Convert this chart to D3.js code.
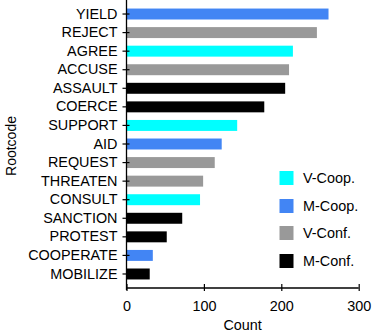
<!DOCTYPE html>
<html><head><meta charset="utf-8">
<script src="https://cdn.jsdelivr.net/npm/d3@7"></script>
<style>
body{margin:0;background:#fff;}
svg{display:block;font-family:"Liberation Sans",Arial,sans-serif;}
</style></head>
<body><svg id="chart" width="374" height="334"></svg>
<script>
const categories = ["YIELD","REJECT","AGREE","ACCUSE","ASSAULT","COERCE","SUPPORT","AID","REQUEST","THREATEN","CONSULT","SANCTION","PROTEST","COOPERATE","MOBILIZE"];
const counts = [261,246,215,210,205,178,143,123,114,99,95,72,52,34,30];
const groups = ["M-Coop.","V-Conf.","V-Coop.","V-Conf.","M-Conf.","M-Conf.","V-Coop.","M-Coop.","V-Conf.","V-Conf.","V-Coop.","M-Conf.","M-Conf.","M-Coop.","M-Conf."];
const legendLabels = ["V-Coop.","M-Coop.","V-Conf.","M-Conf."];
const legendColors = ["#00ffff","#4285f4","#999999","#000000"];
const xTicks = [0,100,200,300];

const svg = d3.select("#chart");
const mLeft = 126.5, mTop = 0, plotH = 288, mRight = 358.7;
const x = d3.scaleLinear().domain([0,300]).range([mLeft, mRight]);
const y = d3.scaleBand().domain(categories).range([mTop, mTop+plotH]).paddingInner(0.41).paddingOuter(0.46);
const color = d3.scaleOrdinal().domain(legendLabels).range(legendColors);

svg.append("g").selectAll("rect").data(categories).join("rect")
  .attr("x", x(0)+0.5)
  .attr("y", d=>y(d))
  .attr("width", (d,i)=>x(counts[i])-x(0)-0.5)
  .attr("height", y.bandwidth())
  .attr("fill", (d,i)=>color(groups[i]));

// y axis
const ya = svg.append("g").attr("transform",`translate(${mLeft},0)`)
  .call(d3.axisLeft(y).tickSize(0).tickPadding(9));
ya.select(".domain").remove();
ya.selectAll(".tick text").attr("font-size","14.4px").attr("fill","#000").attr("font-family","Liberation Sans, Arial, sans-serif");
ya.selectAll(".tick").append("line").attr("x1",-4).attr("x2",3).attr("stroke","#000").attr("stroke-width",1.2);
svg.append("line").attr("x1",mLeft).attr("x2",mLeft).attr("y1",0).attr("y2",mTop+plotH+2).attr("stroke","#000").attr("stroke-width",1.3);

// x axis
const xa = svg.append("g").attr("transform",`translate(0,${mTop+plotH})`)
  .call(d3.axisBottom(x).tickValues(xTicks).tickSize(0).tickPadding(13).tickFormat(d3.format("d")));
xa.select(".domain").remove();
xa.selectAll(".tick text").attr("font-size","14.4px").attr("fill","#000").attr("font-family","Liberation Sans, Arial, sans-serif");
xa.selectAll(".tick").append("line").attr("y1",-4).attr("y2",3).attr("stroke","#000").attr("stroke-width",1.2);
svg.append("line").attr("x1",mLeft).attr("x2",mRight).attr("y1",mTop+plotH).attr("y2",mTop+plotH).attr("stroke","#000").attr("stroke-width",1.3);

svg.append("text").attr("x",(mLeft+mRight)/2).attr("y",330).attr("text-anchor","middle")
  .attr("font-size","14.4px").text("Count");
svg.append("text").attr("transform","translate(16,146) rotate(-90)").attr("text-anchor","middle")
  .attr("font-size","14px").text("Rootcode");

// legend
const legY = [171,199,226,254];
const lg = svg.append("g");
legendLabels.forEach((l,i)=>{
  lg.append("rect").attr("x",279.5).attr("y",legY[i]).attr("width",14).attr("height",14).attr("fill",legendColors[i]);
  lg.append("text").attr("x",303).attr("y",legY[i]+7).attr("dy","0.35em").attr("font-size","14.4px").text(l);
});
</script></body></html>
